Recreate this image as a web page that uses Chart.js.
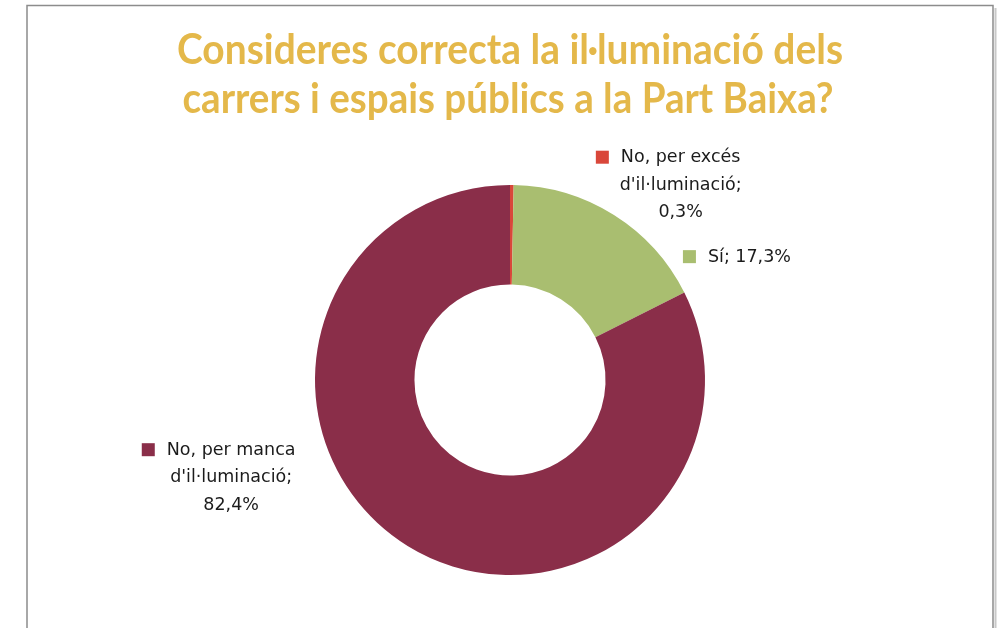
<!DOCTYPE html>
<html>
<head>
<meta charset="utf-8">
<script src="https://cdn.jsdelivr.net/npm/chart.js@4.4.1/dist/chart.umd.min.js"></script>
<style>
  html, body { margin: 0; padding: 0; background: #fff; }
  #wrap { width: 1000px; height: 628px; position: relative; }
</style>
</head>
<body>
<div id="wrap"><canvas id="chart" width="1000" height="628"></canvas></div>
<script>
// survey answers, clockwise from 12 o'clock
const categories = ["No, per excés d'il·luminació", 'Sí', "No, per manca d'il·luminació"]
const labelLines = [["No, per excés", "d'il·luminació;"], ['Sí;'], ["No, per manca", "d'il·luminació;"]]
const percentages = [0.3, 17.3, 82.4]
const sliceColors = ['#D9473A', '#A9BE70', '#8A2E49']
const titleLines = ['Consideres correcta la il·luminació dels', 'carrers i espais públics a la Part Baixa?']

// where each data label sits, relative to the doughnut centre (in outer radii)
const labelSpots = [
    { dx: 0.875, dy: -1.14, align: 'center' },
    { dx: 1.015, dy: -0.63, align: 'left' },
    { dx: -1.43, dy: 0.36, align: 'center' }
]

const labelFont = '17.5px "DejaVu Sans"'

function fmt(v) {
    return v.toFixed(1).replace('.', ',') + '%'
}

// frame + title
const framePlugin = {
    id: 'frame',
    beforeDraw(chart) {
        const ctx = chart.ctx
        ctx.save()
        ctx.strokeStyle = '#8c8c8c'
        ctx.lineWidth = 1.5
        ctx.beginPath()
        ctx.moveTo(27, 640)
        ctx.lineTo(27, 5.5)
        ctx.lineTo(993, 5.5)
        ctx.lineTo(993, 640)
        ctx.stroke()
        ctx.strokeStyle = '#c8c8c8'
        ctx.lineWidth = 2
        ctx.beginPath()
        ctx.moveTo(995.5, 8)
        ctx.lineTo(995.5, 640)
        ctx.stroke()

        ctx.fillStyle = '#E4B84A'
        ctx.font = 'bold 42px Lato'
        ctx.textAlign = 'center'
        ctx.textBaseline = 'alphabetic'
        ctx.fillText(titleLines[0], 510, 64, 666)
        ctx.fillText(titleLines[1], 508, 113, 651)
        ctx.restore()
    }
}

// data labels with a small colour key in front
const labelPlugin = {
    id: 'sliceLabels',
    afterDraw(chart) {
        const ctx = chart.ctx
        const arc = chart.getDatasetMeta(0).data[0]
        const cx = arc.x, cy = arc.y, r = arc.outerRadius
        const lh = 27.5
        ctx.save()
        ctx.font = labelFont
        ctx.fillStyle = '#1b1b1b'
        ctx.textBaseline = 'middle'
        percentages.forEach((v, i) => {
            const spot = labelSpots[i]
            const x = cx + spot.dx * r
            const y = cy + spot.dy * r
            const lines = labelLines[i].slice()
            if (lines.length === 1) lines[0] = lines[0] + ' ' + fmt(v)
            else lines.push(fmt(v))
            let firstLeft
            lines.forEach((t, k) => {
                const w = ctx.measureText(t).width
                const left = spot.align === 'center' ? x - w / 2 : x
                if (k === 0) firstLeft = left
                ctx.fillText(t, left, y + k * lh)
            })
            ctx.fillStyle = sliceColors[i]
            ctx.fillRect(firstLeft - 25, y - 7, 13, 13)
            ctx.fillStyle = '#1b1b1b'
        })
        ctx.restore()
    }
}

var context = document.getElementById('chart').getContext('2d')
new Chart(context, {
    type: 'doughnut',
    data: {
        labels: categories,
        datasets: [{
            data: percentages,
            backgroundColor: sliceColors,
            borderWidth: 0
        }]
    },
    options: {
        responsive: false,
        animation: false,
        cutout: '49%',
        rotation: 0,
        layout: {
            padding: { top: 185, bottom: 53, left: 315, right: 295 }
        },
        plugins: {
            legend: { display: false },
            title: { display: false },
            tooltip: { enabled: false }
        }
    },
    plugins: [framePlugin, labelPlugin]
})
</script>
</body>
</html>
